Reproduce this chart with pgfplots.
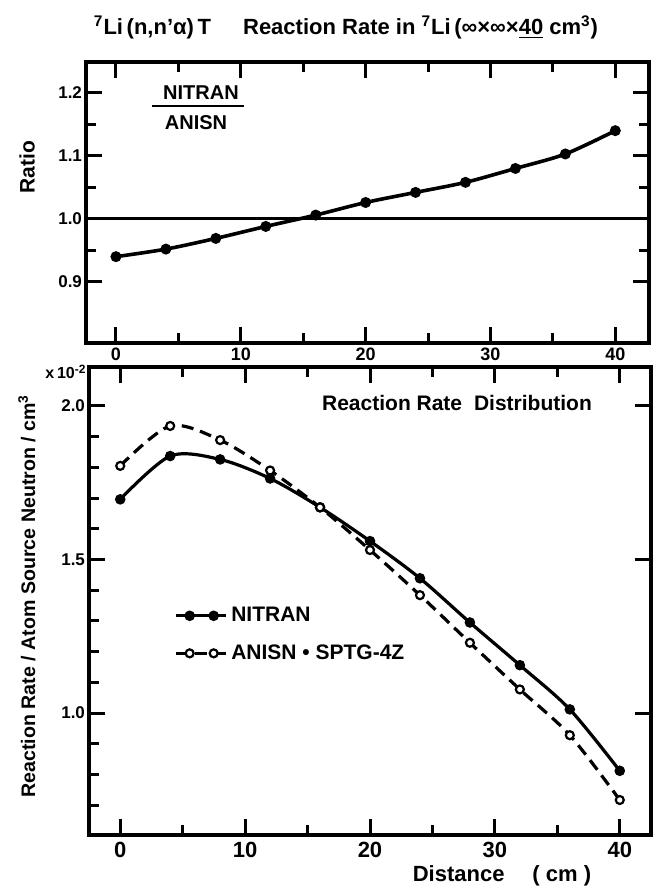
\documentclass[border=0pt]{standalone}
\usepackage{fontspec}
\setmainfont{Liberation Sans}
\usepackage{pgfplots}
\usepackage{pgfplotstable}
\pgfplotsset{compat=1.18}

\pgfplotstableread{
x ratio
0 0.940
4 0.952
8 0.969
12 0.988
16 1.006
20 1.026
24 1.042
28 1.058
32 1.080
36 1.103
40 1.140
}\ratiotab

\pgfplotstableread{
x nitran anisn
0 1.696 1.805
4 1.837 1.935
8 1.826 1.889
12 1.764 1.790
16 1.670 1.670
20 1.560 1.531
24 1.439 1.384
28 1.295 1.229
32 1.156 1.077
36 1.012 0.928
40 0.812 0.717
}\ratetab

\pgfplotsset{
  panel/.style={
    scale only axis,
    anchor=south west,
    tick align=inside,
    major tick length=8pt,
    minor tick length=5pt,
    every tick/.append style={line width=1.5pt, black},
    axis line style={line width=1.8pt},
    /pgf/number format/assume math mode=true,
    yticklabel style={/pgf/number format/fixed, /pgf/number format/fixed zerofill, /pgf/number format/precision=1, font=\bfseries\fontsize{8.5}{10}\selectfont, xshift=1.5pt},
  },
  xtickonly/.style={
    scale only axis, anchor=south west, tick align=inside,
    major tick length=8pt, minor tick length=5pt,
    every tick/.append style={line width=1.5pt, black},
    axis line style={line width=1.8pt},
    hide y axis, xtick={0,10,20,30,40}, minor x tick num=1, xticklabels={},
  },
  mylegend/.style={legend image code/.code={\draw[mark repeat=2,mark phase=2,##1] plot coordinates {(0pt,0pt) (7pt,0pt) (13pt,0pt) (19pt,0pt) (25pt,0pt)};}},
}

\begin{document}
\begin{tikzpicture}[font=\bfseries]
\useasboundingbox (0,0) rectangle (328pt,446.5pt);

% ---------- top panel: ratio ----------
\begin{axis}[panel,
  at={(43pt,275pt)}, width=281.5pt, height=140.5pt,
  xmin=-2.4, xmax=42.7, ymin=0.803, ymax=1.249,
  xtick={0,10,20,30,40}, minor x tick num=1,
  ytick={0.9,1.0,1.1,1.2}, minor y tick num=1,
  xticklabel style={font=\bfseries\fontsize{9}{10}\selectfont, yshift=1pt},
]
\addplot[line width=1.4pt] coordinates {(-2.4,1.0) (42.7,1.0)};
\addplot[line width=1.8pt, smooth, mark=*, mark size=1.8pt] table[x=x,y=ratio] {\ratiotab};
\end{axis}
\begin{axis}[xtickonly, at={(43pt,275pt)}, width=281.5pt, height=140.5pt,
  xmin=-2.4, xmax=42.7, ymin=0.803, ymax=1.249, axis x line*=top]
\end{axis}
\begin{axis}[xtickonly, at={(43pt,275pt)}, width=281.5pt, height=140.5pt,
  xmin=-2.4, xmax=42.7, ymin=0.803, ymax=1.249, axis x line*=bottom]
\end{axis}

% ---------- bottom panel: reaction rate ----------
\begin{axis}[panel,
  at={(44.5pt,29pt)}, width=281pt, height=234pt,
  xmin=-2.5, xmax=42.5, ymin=0.603, ymax=2.127,
  xtick={0,10,20,30,40}, minor x tick num=1,
  ytick={1.0,1.5,2.0}, ytick pos=left,
  minor ytick={0.7,0.8,0.9,1.1,1.2,1.3,1.4,1.6,1.7,1.8,1.9},
  xticklabel style={font=\bfseries\fontsize{11}{12}\selectfont},
  legend style={at={(0.14,0.505)}, anchor=north west, draw=none, fill=none,
    font=\bfseries\fontsize{10.5}{12}\selectfont, /tikz/row sep=6pt,
    /tikz/every even column/.append style={column sep=4pt}},
  legend cell align=left,
]
\addplot[line width=1.6pt, smooth, mark=*, mark size=1.8pt, mylegend]
  table[x=x,y=nitran] {\ratetab};
\addlegendentry{NITRAN}
\addplot[line width=1.6pt, smooth, dash pattern=on 6pt off 3.5pt, mark=*, mark size=2pt,
  mark options={solid, fill=white, line width=1.1pt}, mylegend]
  table[x=x,y=anisn] {\ratetab};
\addlegendentry{ANISN \textbullet{} SPTG-4Z}
\end{axis}
\begin{axis}[xtickonly, at={(44.5pt,29pt)}, width=281pt, height=234pt,
  xmin=-2.5, xmax=42.5, ymin=0.603, ymax=2.127, axis x line*=top]
\end{axis}
\begin{axis}[xtickonly, at={(44.5pt,29pt)}, width=281pt, height=234pt,
  xmin=-2.5, xmax=42.5, ymin=0.603, ymax=2.127, axis x line*=bottom]
\end{axis}

% right-hand major ticks of the bottom panel
\begin{axis}[panel,
  at={(44.5pt,29pt)}, width=281pt, height=234pt,
  xmin=-2.5, xmax=42.5, ymin=0.603, ymax=2.127,
  hide x axis, axis y line*=right,
  ytick={1.0,1.5,2.0}, yticklabels={},
]
\end{axis}

% ---------- texts ----------
\node[font=\bfseries\fontsize{11}{13}\selectfont] at (173pt,433pt)
  {\textsuperscript{7}Li\,(n,n'α)\,T\hspace{16pt}Reaction Rate in \textsuperscript{7}Li\,(∞×∞×\underline{40} cm\textsuperscript{3})};
\node[rotate=90, font=\bfseries\fontsize{10.5}{12}\selectfont] at (13.5pt,363pt) {Ratio};
\node[rotate=90, font=\bfseries\fontsize{9.8}{12}\selectfont] at (13.5pt,148.5pt)
  {Reaction Rate / Atom Source Neutron / cm\textsuperscript{3}};
\node[font=\bfseries\fontsize{8}{9}\selectfont] at (33pt,260.5pt) {x\,10\textsuperscript{-2}};
\node[font=\bfseries\fontsize{11}{12}\selectfont] at (251pt,8.5pt) {Distance\hspace{14pt}( cm )};
\node[font=\bfseries\fontsize{10.5}{12}\selectfont] at (228.5pt,245pt) {Reaction Rate\hspace{3pt} Distribution};
\node[font=\bfseries\fontsize{10}{11}\selectfont] at (100.5pt,400pt) {NITRAN};
\draw[line width=1.3pt] (76pt,393.5pt) -- (122pt,393.5pt);
\node[font=\bfseries\fontsize{10}{11}\selectfont] at (98pt,385pt) {ANISN};
\end{tikzpicture}
\end{document}
